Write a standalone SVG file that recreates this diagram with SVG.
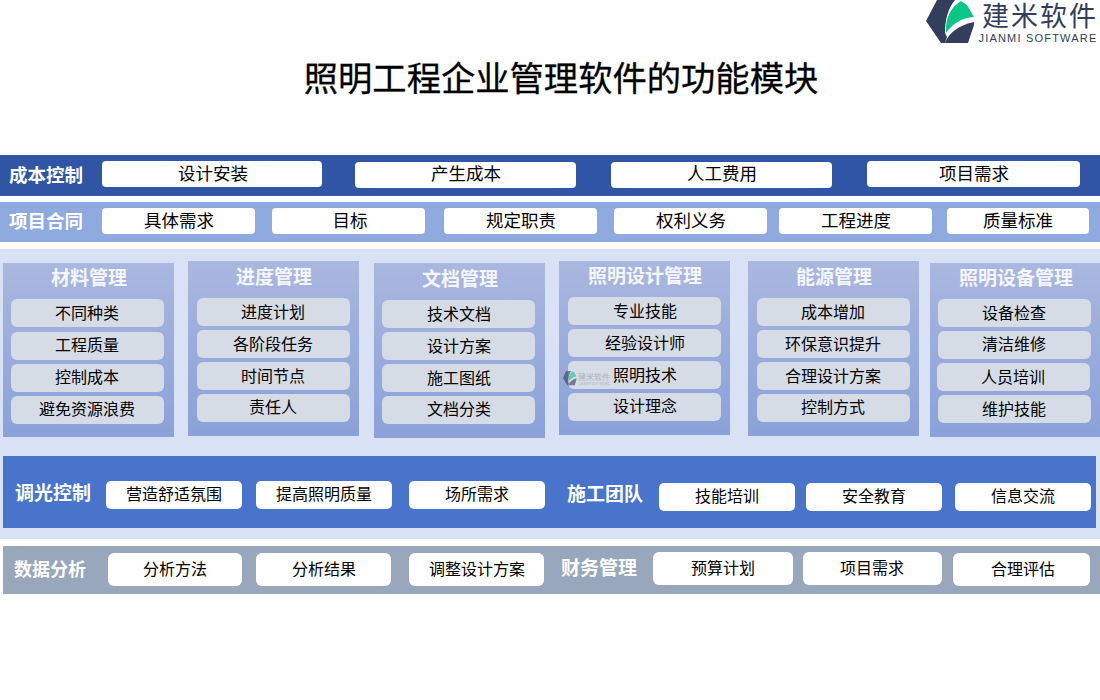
<svg xmlns="http://www.w3.org/2000/svg" xmlns:xlink="http://www.w3.org/1999/xlink" width="1100" height="700" viewBox="0 0 1100 700">
<style>
text{font-family:"Noto Sans CJK SC","Liberation Sans",sans-serif;text-anchor:middle}
.w{fill:#fff;font-size:19px;font-weight:700}
.h{fill:#f4f6fc;font-size:19px;font-weight:700}
.t{fill:#000;font-size:16px}
.u{fill:#000;font-size:17.5px}
.b{fill:#fff}
.g{fill:#d6dce5}
.p{fill:url(#pg)}
</style>
<defs>
<linearGradient id="pg" x1="0" y1="0" x2="0" y2="1"><stop offset="0" stop-color="#aab7df"/><stop offset="1" stop-color="#8aa1d9"/></linearGradient>
<g id="logo">
<path d="M937 0H955C948 8 945 20 945 33L947 37L945 43H941L926 21Z" fill="#323e5b"/>
<path d="M946 33C945 18 951 7 961 1L967 5L974 17C962 18 953 23 946 33Z" fill="#0cc688"/>
<path d="M974 22V25L968 43H945C949 32 960 25 974 22Z" fill="#323e5b"/>
</g>
</defs>
<rect width="1100" height="700" fill="#fff"/>
<g id="logo-mark">
<use xlink:href="#logo"/>
<text x="1040" y="26" style="font-size:27px;letter-spacing:2px" fill="#323e5b">建米软件</text>
<text x="1038" y="42" style="font-size:11px;letter-spacing:1.2px;font-family:'Liberation Sans',sans-serif" fill="#323e5b">JIANMI SOFTWARE</text>
</g>
<text id="title" x="561" y="91" style="font-size:34.3px;stroke:#000;stroke-width:0.3" fill="#000">照明工程企业管理软件的功能模块</text>

<g id="row-cost">
<rect y="155" width="1100" height="41" fill="#2f55a4"/>
<text class="w" x="46" y="182" style="font-size:18.5px">成本控制</text>
<rect class="b" x="102" y="161" width="220" height="26" rx="4"/><text class="u" x="213" y="180">设计安装</text>
<rect class="b" x="355" y="162" width="221" height="26" rx="4"/><text class="u" x="466" y="180">产生成本</text>
<rect class="b" x="611" y="162" width="221" height="26" rx="4"/><text class="u" x="722" y="180">人工费用</text>
<rect class="b" x="867" y="161" width="213" height="26" rx="4"/><text class="u" x="974" y="180">项目需求</text>
</g>
<g id="row-contract">
<rect y="202" width="1100" height="40" fill="#8faadf"/>
<text class="w" x="46" y="228" style="font-size:18.5px">项目合同</text>
<rect class="b" x="102" y="208" width="153" height="26" rx="4"/><text class="u" x="179" y="227">具体需求</text>
<rect class="b" x="272" y="208" width="153" height="26" rx="4"/><text class="u" x="350" y="227">目标</text>
<rect class="b" x="444" y="208" width="153" height="26" rx="4"/><text class="u" x="521" y="227">规定职责</text>
<rect class="b" x="614" y="208" width="153" height="26" rx="4"/><text class="u" x="691" y="227">权利义务</text>
<rect class="b" x="779" y="208" width="153" height="26" rx="4"/><text class="u" x="856" y="227">工程进度</text>
<rect class="b" x="947" y="208" width="142" height="26" rx="4"/><text class="u" x="1018" y="227">质量标准</text>
</g>
<rect id="band" y="249" width="1100" height="290" fill="#d9e2f5"/>

<g id="panel-material">
<rect class="p" x="3" y="263" width="171" height="174"/>
<text class="h" x="89" y="285">材料管理</text>
<rect class="g" x="11" y="299" width="153" height="28" rx="6"/><text class="t" x="87" y="319">不同种类</text>
<rect class="g" x="11" y="332" width="153" height="28" rx="6"/><text class="t" x="87" y="351">工程质量</text>
<rect class="g" x="11" y="364" width="153" height="28" rx="6"/><text class="t" x="87" y="383">控制成本</text>
<rect class="g" x="11" y="396" width="153" height="28" rx="6"/><text class="t" x="87" y="415">避免资源浪费</text>
</g>
<g id="panel-progress">
<rect class="p" x="188" y="261" width="171" height="175"/>
<text class="h" x="274" y="284">进度管理</text>
<rect class="g" x="197" y="298" width="153" height="28" rx="6"/><text class="t" x="273" y="318">进度计划</text>
<rect class="g" x="197" y="330" width="153" height="28" rx="6"/><text class="t" x="273" y="350">各阶段任务</text>
<rect class="g" x="197" y="362" width="153" height="28" rx="6"/><text class="t" x="273" y="382">时间节点</text>
<rect class="g" x="197" y="394" width="153" height="28" rx="6"/><text class="t" x="273" y="413">责任人</text>
</g>
<g id="panel-docs">
<rect class="p" x="374" y="263" width="171" height="175"/>
<text class="h" x="460" y="286">文档管理</text>
<rect class="g" x="382" y="300" width="153" height="28" rx="6"/><text class="t" x="459" y="320">技术文档</text>
<rect class="g" x="382" y="332" width="153" height="28" rx="6"/><text class="t" x="459" y="352">设计方案</text>
<rect class="g" x="382" y="364" width="153" height="28" rx="6"/><text class="t" x="459" y="384">施工图纸</text>
<rect class="g" x="382" y="396" width="153" height="28" rx="6"/><text class="t" x="459" y="415">文档分类</text>
</g>
<g id="panel-design">
<rect class="p" x="559" y="261" width="171" height="174"/>
<text class="h" x="645" y="283">照明设计管理</text>
<rect class="g" x="568" y="297" width="153" height="28" rx="6"/><text class="t" x="645" y="317">专业技能</text>
<rect class="g" x="568" y="329" width="153" height="28" rx="6"/><text class="t" x="645" y="349">经验设计师</text>
<rect class="g" x="568" y="361" width="153" height="28" rx="6"/><text class="t" x="645" y="381">照明技术</text>
<rect class="g" x="568" y="393" width="153" height="28" rx="6"/><text class="t" x="645" y="412">设计理念</text>
</g>
<g id="panel-energy">
<rect class="p" x="748" y="261" width="171" height="175"/>
<text class="h" x="834" y="284">能源管理</text>
<rect class="g" x="757" y="298" width="153" height="28" rx="6"/><text class="t" x="833" y="318">成本增加</text>
<rect class="g" x="757" y="330" width="153" height="28" rx="6"/><text class="t" x="833" y="350">环保意识提升</text>
<rect class="g" x="757" y="362" width="153" height="28" rx="6"/><text class="t" x="833" y="382">合理设计方案</text>
<rect class="g" x="757" y="394" width="153" height="28" rx="6"/><text class="t" x="833" y="413">控制方式</text>
</g>
<g id="panel-equipment">
<rect class="p" x="930" y="263" width="170" height="174"/>
<text class="h" x="1016" y="285">照明设备管理</text>
<rect class="g" x="938" y="299" width="153" height="28" rx="6"/><text class="t" x="1014" y="319">设备检查</text>
<rect class="g" x="938" y="331" width="153" height="28" rx="6"/><text class="t" x="1014" y="350">清洁维修</text>
<rect class="g" x="937" y="363" width="153" height="28" rx="6"/><text class="t" x="1013" y="383">人员培训</text>
<rect class="g" x="938" y="395" width="153" height="28" rx="6"/><text class="t" x="1014" y="415">维护技能</text>
</g>
<g id="watermark" opacity="0.6">
<g transform="translate(563 371) scale(0.28 0.33)"><use xlink:href="#logo" x="-926"/></g>
<text x="594" y="380" style="font-size:8px" fill="#8d96a8">建米软件</text>
<text x="594" y="385" style="font-size:3.5px" fill="#8d96a8">JIANMI SOFTWARE</text>
</g>

<g id="row-light">
<rect x="3" y="456" width="1093" height="72" fill="#4874cb"/>
<text class="w" x="53" y="500">调光控制</text>
<rect class="b" x="106" y="481" width="136" height="28" rx="5"/><text class="t" x="174" y="500">营造舒适氛围</text>
<rect class="b" x="256" y="481" width="136" height="28" rx="5"/><text class="t" x="324" y="500">提高照明质量</text>
<rect class="b" x="409" y="481" width="136" height="28" rx="5"/><text class="t" x="477" y="500">场所需求</text>
<text class="w" x="605" y="501">施工团队</text>
<rect class="b" x="659" y="483" width="136" height="28" rx="5"/><text class="t" x="727" y="502">技能培训</text>
<rect class="b" x="806" y="483" width="136" height="28" rx="5"/><text class="t" x="874" y="502">安全教育</text>
<rect class="b" x="955" y="483" width="136" height="28" rx="5"/><text class="t" x="1023" y="502">信息交流</text>
</g>
<g id="row-data">
<rect x="3" y="546" width="1097" height="48" fill="#98a7bc"/>
<text class="w" x="50" y="576" style="font-size:18px">数据分析</text>
<rect class="b" x="108" y="553" width="134" height="33" rx="6"/><text class="t" x="175" y="575">分析方法</text>
<rect class="b" x="256" y="553" width="135" height="33" rx="6"/><text class="t" x="324" y="575">分析结果</text>
<rect class="b" x="409" y="553" width="135" height="33" rx="6"/><text class="t" x="477" y="575">调整设计方案</text>
<text class="w" x="599" y="575">财务管理</text>
<rect class="b" x="653" y="552" width="140" height="33" rx="6"/><text class="t" x="723" y="574">预算计划</text>
<rect class="b" x="803" y="552" width="139" height="33" rx="6"/><text class="t" x="872" y="574">项目需求</text>
<rect class="b" x="953" y="553" width="137" height="33" rx="6"/><text class="t" x="1023" y="575">合理评估</text>
</g>
</svg>
